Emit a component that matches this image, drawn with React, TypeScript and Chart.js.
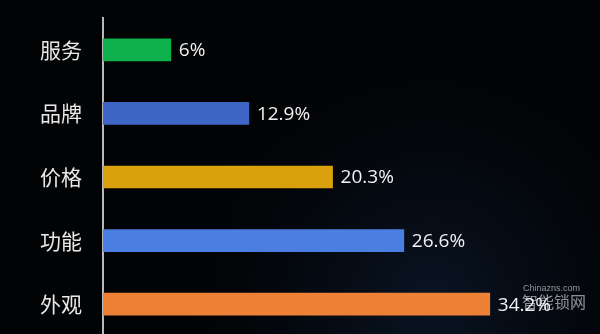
import React, { useEffect, useRef } from "react";
import { Chart, registerables } from "chart.js";

Chart.register(...registerables);

const categories = ["服务", "品牌", "价格", "功能", "外观"];
const values = [6, 12.9, 20.3, 26.6, 34.2];
const barColors = ["#0db14b", "#3d66c6", "#d9a20c", "#4a7ee0", "#ef8136"];
const xMin = 0;
const xMax = 42;

const bgPlugin = {
  id: "bgPlugin",
  beforeDraw(chart: any) {
    const { ctx, width, height } = chart;
    ctx.save();
    ctx.fillStyle = "#020305";
    ctx.fillRect(0, 0, width, height);
    const g = ctx.createRadialGradient(430, 300, 10, 430, 300, 260);
    g.addColorStop(0, "rgba(16,36,62,0.5)");
    g.addColorStop(0.5, "rgba(10,22,40,0.3)");
    g.addColorStop(1, "rgba(2,3,5,0)");
    ctx.fillStyle = g;
    ctx.fillRect(0, 0, width, height);
    ctx.restore();
  },
};

const valueLabelPlugin = {
  id: "valueLabelPlugin",
  afterDatasetsDraw(chart: any) {
    const { ctx } = chart;
    const meta = chart.getDatasetMeta(0);
    ctx.save();
    ctx.font = '19px "Open Sans", sans-serif';
    ctx.fillStyle = "#f2f2f2";
    ctx.textAlign = "left";
    ctx.textBaseline = "middle";
    meta.data.forEach((bar: any, i: number) => {
      ctx.fillText(`${values[i]}%`, bar.x + 8, bar.y + 1);
    });
    ctx.restore();
  },
  afterDraw(chart: any) {
    const { ctx } = chart;
    ctx.save();
    ctx.fillStyle = "rgba(255,255,255,0.55)";
    ctx.textAlign = "left";
    ctx.textBaseline = "middle";
    ctx.font = '9px "Liberation Sans", sans-serif';
    ctx.fillText("Chinazns.com", 523, 289);
    ctx.font = '16px "Noto Sans CJK SC", sans-serif';
    ctx.fillText("智能锁网", 522, 302);
    ctx.restore();
  },
};

export default function App() {
  const ref = useRef<HTMLCanvasElement | null>(null);

  useEffect(() => {
    if (!ref.current) return;
    const chart = new Chart(ref.current, {
      type: "bar",
      data: {
        labels: categories,
        datasets: [
          {
            data: values,
            backgroundColor: barColors,
            borderWidth: 0,
            barThickness: 22,
          },
        ],
      },
      options: {
        indexAxis: "y",
        responsive: false,
        animation: false,
        events: [],
        layout: { padding: { top: 18, bottom: 2, left: 0, right: 22 } },
        plugins: {
          legend: { display: false },
          tooltip: { enabled: false },
          title: { display: false },
        },
        scales: {
          x: {
            display: false,
            min: xMin,
            max: xMax,
          },
          y: {
            grid: { display: false, drawTicks: false },
            border: { display: true, color: "#b8b8b8", width: 2 },
            ticks: {
              color: "#e8e8e8",
              padding: 21,
              font: { family: '"Noto Sans CJK SC", sans-serif', size: 21 },
            },
            afterFit(scale: any) {
              scale.width = 103;
              scale.paddingTop = 0;
              scale.paddingBottom = 0;
            },
          },
        },
      },
      plugins: [bgPlugin, valueLabelPlugin],
    } as any);
    return () => chart.destroy();
  }, []);

  return (
    <div
      style={{
        position: "fixed",
        left: 0,
        top: 0,
        width: 600,
        height: 334,
        overflow: "hidden",
        background: "#020305",
      }}
    >
      <canvas ref={ref} width={600} height={338} style={{ display: "block" }} />
    </div>
  );
}
